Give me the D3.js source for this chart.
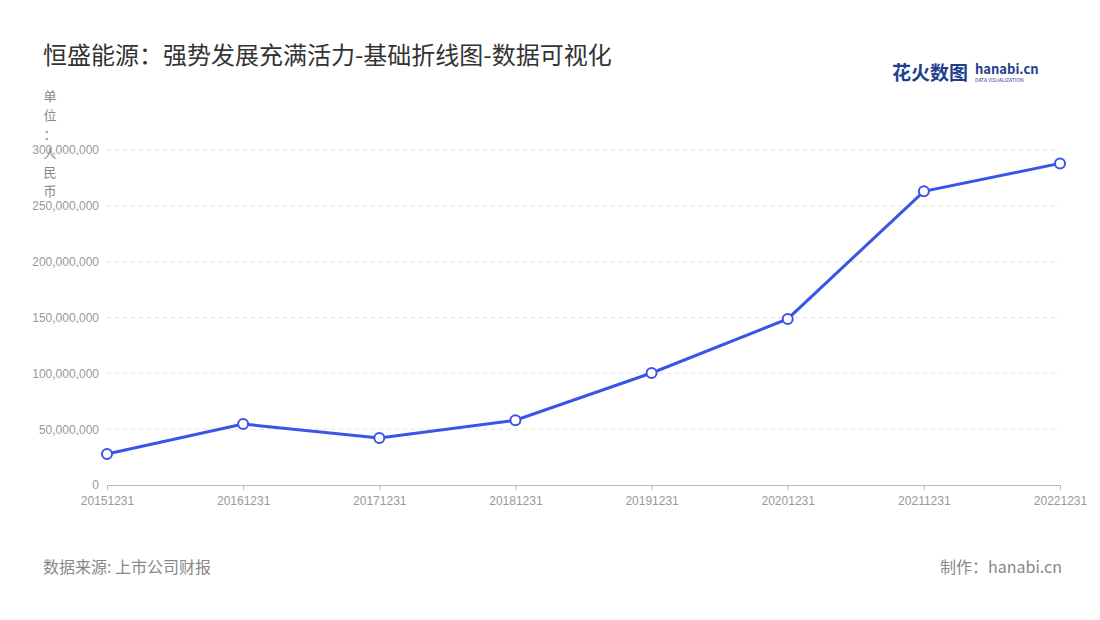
<!DOCTYPE html>
<html><head><meta charset="utf-8">
<script src="https://cdn.jsdelivr.net/npm/d3@7"></script>
<style>body{margin:0;background:#fff;font-family:"Noto Sans CJK SC","Noto Sans",sans-serif;}</style>
</head><body>
<svg id="chart" width="1100" height="620"></svg>
<script>
const categories = ["20151231","20161231","20171231","20181231","20191231","20201231","20211231","20221231"];
const values = [27800000, 54600000, 42000000, 58000000, 100300000, 148700000, 263000000, 288000000];
const yTicks = [0, 50000000, 100000000, 150000000, 200000000, 250000000, 300000000];
const unitChars = ["单","位","：","人","民","币"];

const svg = d3.select("#chart");
const x = d3.scalePoint().domain(categories).range([107, 1060]);
const y = d3.scaleLinear().domain([0, 300000000]).range([485, 150]);

svg.append("text").attr("x", 43).attr("y", 64).attr("font-size", 24).attr("fill", "#333")
  .text("恒盛能源：强势发展充满活力-基础折线图-数据可视化");

// logo
svg.append("text").attr("x", 892).attr("y", 80).attr("font-size", 19).attr("font-weight", "bold")
  .attr("fill", "#1f3f8f").text("花火数图");
svg.append("text").attr("x", 975).attr("y", 74).attr("font-size", 13).attr("font-weight", "bold")
  .attr("fill", "#1f3f8f").text("hanabi.cn");
svg.append("text").attr("x", 975).attr("y", 82).attr("font-size", 5).attr("fill", "#1f3f8f")
  .text("DATA VISUALIZATION");

// grid
svg.append("g").selectAll("line").data(yTicks.slice(1)).join("line")
  .attr("x1", 107).attr("x2", 1060).attr("y1", d => y(d)).attr("y2", d => y(d))
  .attr("stroke", "#e0e0e0").attr("stroke-dasharray", "4,4");

const ya = svg.append("g").attr("transform", "translate(107,0)")
  .call(d3.axisLeft(y).tickValues(yTicks).tickSize(0).tickPadding(8).tickFormat(d3.format(",")));
ya.select(".domain").remove();
ya.selectAll("text").attr("fill", "#999").attr("font-size", 12);

const xa = svg.append("g").attr("transform", "translate(0,485)")
  .call(d3.axisBottom(x).tickSize(5).tickSizeOuter(0).tickPadding(6));
xa.select(".domain").attr("stroke", "#bbb");
xa.selectAll(".tick line").attr("stroke", "#bbb");
xa.selectAll("text").attr("fill", "#999").attr("font-size", 12);

svg.append("g").selectAll("text").data(unitChars).join("text")
  .attr("x", 50).attr("y", (d, i) => 101 + i * 19).attr("text-anchor", "middle")
  .attr("font-size", 13).attr("fill", "#888").text(d => d);

const line = d3.line().x((d, i) => x(categories[i])).y(d => y(d));
svg.append("path").datum(values).attr("d", line).attr("fill", "none")
  .attr("stroke", "#3a54e8").attr("stroke-width", 3);
svg.append("g").selectAll("circle").data(values).join("circle")
  .attr("cx", (d, i) => x(categories[i])).attr("cy", d => y(d)).attr("r", 5)
  .attr("fill", "#fff").attr("stroke", "#3a54e8").attr("stroke-width", 2);

svg.append("text").attr("x", 43).attr("y", 573).attr("font-size", 16).attr("fill", "#888")
  .text("数据来源: 上市公司财报");
svg.append("text").attr("x", 1062).attr("y", 573).attr("font-size", 16).attr("fill", "#888")
  .attr("text-anchor", "end").text("制作：hanabi.cn");
</script>
</body></html>
